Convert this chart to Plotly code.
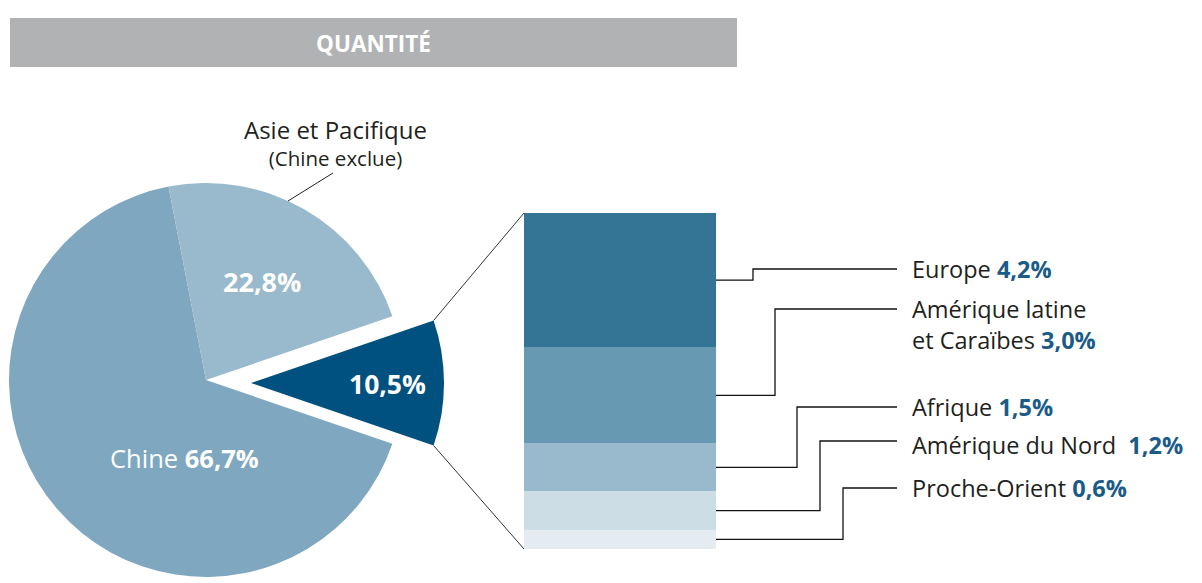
import math
import plotly.graph_objects as go

# ---------------- data ----------------
pie_labels = ["Autres régions", "Chine", "Asie et Pacifique (Chine exclue)"]
pie_values = [10.5, 66.7, 22.8]

bar_labels = ["Proche-Orient", "Amérique du Nord", "Afrique",
              "Amérique latine<br>et Caraïbes", "Europe"]   # bottom -> top
bar_values = [0.6, 1.2, 1.5, 3.0, 4.2]

title_text = "QUANTITÉ"

# ---------------- layout / style ----------------
W, H = 1202, 583
OFF = 8                 # page body margin of the browser
FONT = "Open Sans"
TXT = "#231f20"
PCT = "#1b5b88"

C_CHINE = "#7fa8c0"
C_ASIE = "#99b9cd"
C_DARK = "#00517f"
BAR_COLORS = ["#e4ecf2", "#ccdde6", "#99b9cd", "#6899b2", "#347596"]
CLEAR = "rgba(0,0,0,0)"

PIE_C = (206, 380)      # px
PIE_R = 197
PIE2_C = (251, 383)     # exploded slice centre, px
PIE2_R = 193

BAR_X0, BAR_X1 = 524, 716
BAR_TOP_PX, BAR_BOT_PX = 213, 549

ELBOW_X = [843, 820, 797, 775, 753]
LABEL_Y = [488, 441, 407, 309, 269]
LABEL_DY = [0, 4, 0, -3, 0]
LINE_END_X = 897
LABEL_X = 910

total = sum(bar_values)
unit = (BAR_BOT_PX - BAR_TOP_PX) / total


def ydata(py_):
    return (BAR_BOT_PX - py_) / unit


def px(x):
    return (x - OFF) / W


def py(y):
    return 1 - (y - OFF) / H


def fmt(v):
    return f"{v:.1f}".replace(".", ",") + "%"


fig = go.Figure()

# ---- pies (main + exploded slice) ----
rot = 90 - pie_values[0] / sum(pie_values) * 180
for (cx, cy), r, cols in [(PIE_C, PIE_R, [CLEAR, C_CHINE, C_ASIE]),
                          (PIE2_C, PIE2_R, [C_DARK, CLEAR, CLEAR])]:
    fig.add_trace(go.Pie(
        labels=pie_labels, values=pie_values, sort=False,
        direction="clockwise", rotation=rot,
        marker=dict(colors=cols, line=dict(width=0)),
        textinfo="none", hoverinfo="skip", showlegend=False,
        domain=dict(x=[px(cx - r), px(cx + r)],
                    y=[py(cy + r), py(cy - r)]),
    ))

# ---- stacked bar ----
for lab, v, c in zip(bar_labels, bar_values, BAR_COLORS):
    fig.add_trace(go.Bar(
        x=[(BAR_X0 + BAR_X1) / 2], y=[v], width=[BAR_X1 - BAR_X0],
        marker=dict(color=c, line=dict(width=0)), name=lab,
        hoverinfo="skip", showlegend=False,
    ))

# ---- zoom lines from exploded slice corners to bar corners ----
a_up = math.radians(rot)
a_lo = math.radians(rot + pie_values[0] / sum(pie_values) * 360)
for a, yb in [(a_up, total), (a_lo, 0)]:
    cxp = PIE2_C[0] + PIE2_R * math.sin(a)
    cyp = PIE2_C[1] - PIE2_R * math.cos(a)
    fig.add_trace(go.Scatter(
        x=[cxp, BAR_X0], y=[ydata(cyp), yb], mode="lines",
        line=dict(color="#333333", width=1), hoverinfo="skip",
        showlegend=False,
    ))

# ---- connectors + labels ----
cum = 0
annotations = []
for i, (lab, v) in enumerate(zip(bar_labels, bar_values)):
    mid = cum + v / 2
    cum += v
    ly = ydata(LABEL_Y[i])
    fig.add_trace(go.Scatter(
        x=[BAR_X1, ELBOW_X[i], ELBOW_X[i], LINE_END_X],
        y=[mid, mid, ly, ly], mode="lines",
        line=dict(color="#111111", width=1.3), hoverinfo="skip",
        showlegend=False,
    ))
    gap = "\u00a0\u00a0" if lab == "Amérique du Nord" else " "
    n_lines = lab.count("<br>")
    annotations.append(dict(
        x=px(LABEL_X), y=py(LABEL_Y[i] + LABEL_DY[i]),
        xref="paper", yref="paper",
        xanchor="left", yanchor="top" if n_lines else "middle",
        yshift=15 if n_lines else 0,
        text=f"{lab}{gap}<b><span style='color:{PCT}'>{fmt(v)}</span></b>",
        showarrow=False, align="left",
        font=dict(family=FONT, size=23.5, color=TXT),
    ))

# ---- pie labels ----
annotations += [
    dict(x=px(262), y=py(281), text=f"<b>{fmt(pie_values[2])}</b>",
         font=dict(family=FONT, size=27, color="white")),
    dict(x=px(387), y=py(384), text=f"<b>{fmt(pie_values[0])}</b>",
         font=dict(family=FONT, size=26.5, color="white")),
    dict(x=px(184), y=py(458), text=f"Chine <b>{fmt(pie_values[1])}</b>",
         font=dict(family=FONT, size=25.5, color="white")),
    dict(x=px(335), y=py(142),
         text="<span style='font-size:24px'>Asie et Pacifique</span>"
              "<br>(Chine exclue)",
         font=dict(family=FONT, size=20.5, color=TXT)),
    dict(x=px(373), y=py(43), text=f"<b>{title_text}</b>",
         font=dict(family=FONT, size=22.5, color="white")),
]
for a in annotations[-5:]:
    a.update(xref="paper", yref="paper", showarrow=False,
             xanchor="center", yanchor="middle", align="center")

shapes = [
    dict(type="rect", xref="paper", yref="paper",
         x0=px(10), x1=px(737), y0=py(67), y1=py(18),
         fillcolor="#b1b2b4", line=dict(width=0), layer="below"),
    dict(type="line", xref="paper", yref="paper",
         x0=px(288), y0=py(201), x1=px(333), y1=py(173),
         line=dict(color="#222222", width=1)),
]

fig.update_layout(
    width=W, height=H, margin=dict(l=0, r=0, t=0, b=0),
    paper_bgcolor="white", plot_bgcolor="white",
    barmode="stack", bargap=0, showlegend=False,
    xaxis=dict(range=[OFF, W + OFF], visible=False, fixedrange=True),
    yaxis=dict(range=[ydata(H + OFF), ydata(OFF)], visible=False,
               fixedrange=True),
    annotations=annotations, shapes=shapes,
    font=dict(family=FONT),
)

fig.write_html("out.html")
